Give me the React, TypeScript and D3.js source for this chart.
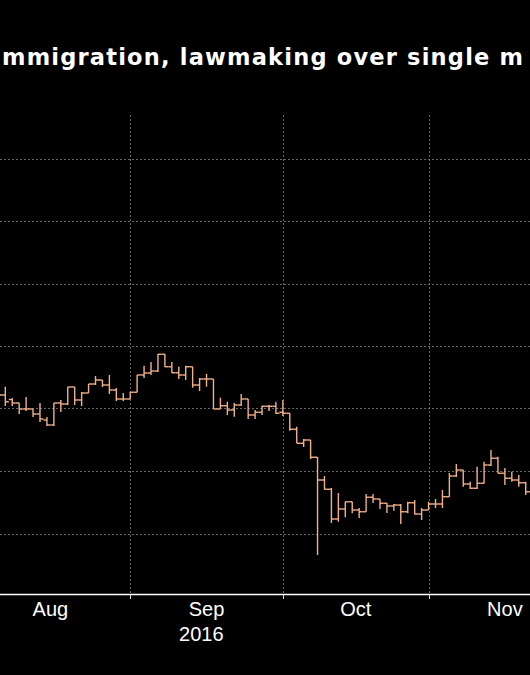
import React, { useEffect } from "react";
import * as d3 from "d3";

const titleText = "mmigration, lawmaking over single m";

const dates = [
  "2016-08-05", "2016-08-08", "2016-08-09", "2016-08-10", "2016-08-11", "2016-08-12",
  "2016-08-15", "2016-08-16", "2016-08-17", "2016-08-18", "2016-08-19",
  "2016-08-22", "2016-08-23", "2016-08-24", "2016-08-25", "2016-08-26",
  "2016-08-29", "2016-08-30", "2016-08-31", "2016-09-01", "2016-09-02",
  "2016-09-05", "2016-09-06", "2016-09-07", "2016-09-08", "2016-09-09",
  "2016-09-12", "2016-09-13", "2016-09-14", "2016-09-15", "2016-09-16",
  "2016-09-19", "2016-09-20", "2016-09-21", "2016-09-22", "2016-09-23",
  "2016-09-26", "2016-09-27", "2016-09-28", "2016-09-29", "2016-09-30",
  "2016-10-03", "2016-10-04", "2016-10-05", "2016-10-06", "2016-10-07",
  "2016-10-10", "2016-10-11", "2016-10-12", "2016-10-13", "2016-10-14",
  "2016-10-17", "2016-10-18", "2016-10-19", "2016-10-20", "2016-10-21",
  "2016-10-24", "2016-10-25", "2016-10-26", "2016-10-27", "2016-10-28",
  "2016-10-31", "2016-11-01", "2016-11-02", "2016-11-03", "2016-11-04",
  "2016-11-07", "2016-11-08", "2016-11-09", "2016-11-10", "2016-11-11",
  "2016-11-14", "2016-11-15", "2016-11-16", "2016-11-17", "2016-11-18",
  "2016-11-21", "2016-11-22",
];

const opens = [
  1.3132, 1.3108, 1.3072, 1.3044, 1.2996, 1.2996, 1.2956, 1.2908, 1.2868, 1.3044,
  1.3036, 1.3172, 1.3068, 1.3124, 1.3196, 1.3228, 1.3188, 1.3148, 1.3076, 1.3076,
  1.3130, 1.3268, 1.3284, 1.3300, 1.3434, 1.3334, 1.3286, 1.3268, 1.3334, 1.3188,
  1.3236, 1.3236, 1.2996, 1.3022, 1.2988, 1.3028, 1.3076, 1.2948, 1.2970, 1.3018,
  1.3018, 1.2970, 1.2962, 1.2834, 1.2722, 1.2748, 1.2610, 1.2428, 1.2354, 1.2116,
  1.2196, 1.2254, 1.2188, 1.2174, 1.2290, 1.2276, 1.2242, 1.2220, 1.2228, 1.2174,
  1.2246, 1.2156, 1.2188, 1.2236, 1.2236, 1.2294, 1.2460, 1.2508, 1.2396, 1.2362,
  1.2402, 1.2548, 1.2602, 1.2482, 1.2442, 1.2428, 1.2406, 1.2334,
];

const highs = [
  1.3164, 1.3174, 1.3084, 1.3044, 1.3092, 1.2996, 1.3044, 1.2932, 1.3044, 1.3068,
  1.3172, 1.3172, 1.3132, 1.3196, 1.3260, 1.3228, 1.3268, 1.3164, 1.3124, 1.3134,
  1.3268, 1.3342, 1.3372, 1.3436, 1.3436, 1.3372, 1.3334, 1.3342, 1.3334, 1.3244,
  1.3276, 1.3236, 1.3086, 1.3054, 1.3044, 1.3116, 1.3076, 1.2988, 1.3022, 1.3028,
  1.3054, 1.3068, 1.2964, 1.2854, 1.2756, 1.2748, 1.2612, 1.2460, 1.2364, 1.2324,
  1.2254, 1.2254, 1.2204, 1.2316, 1.2316, 1.2276, 1.2244, 1.2236, 1.2236, 1.2254,
  1.2268, 1.2204, 1.2254, 1.2276, 1.2348, 1.2484, 1.2556, 1.2508, 1.2414, 1.2534,
  1.2574, 1.2668, 1.2614, 1.2524, 1.2494, 1.2468, 1.2414, 1.2360,
];

const lows = [
  1.3068, 1.3020, 1.3020, 1.2956, 1.2980, 1.2932, 1.2892, 1.2860, 1.2860, 1.2972,
  1.3028, 1.3028, 1.3020, 1.3124, 1.3188, 1.3172, 1.3116, 1.3060, 1.3060, 1.3076,
  1.3130, 1.3244, 1.3268, 1.3292, 1.3332, 1.3284, 1.3236, 1.3228, 1.3166, 1.3140,
  1.3174, 1.2996, 1.2996, 1.2948, 1.2934, 1.3022, 1.2916, 1.2916, 1.2948, 1.2980,
  1.2956, 1.2940, 1.2822, 1.2722, 1.2692, 1.2596, 1.1828, 1.2352, 1.2084, 1.2094,
  1.2130, 1.2162, 1.2124, 1.2174, 1.2244, 1.2196, 1.2164, 1.2182, 1.2076, 1.2162,
  1.2152, 1.2108, 1.2188, 1.2204, 1.2204, 1.2294, 1.2452, 1.2374, 1.2356, 1.2356,
  1.2400, 1.2540, 1.2482, 1.2388, 1.2414, 1.2374, 1.2308, 1.2276,
];

const closes = [
  1.3108, 1.3054, 1.3044, 1.2996, 1.2996, 1.2956, 1.2916, 1.2868, 1.3044, 1.3036,
  1.3172, 1.3068, 1.3124, 1.3196, 1.3228, 1.3188, 1.3148, 1.3076, 1.3076, 1.3130,
  1.3268, 1.3284, 1.3300, 1.3434, 1.3334, 1.3286, 1.3268, 1.3334, 1.3188, 1.3236,
  1.3236, 1.2996, 1.3022, 1.2988, 1.3028, 1.3076, 1.2948, 1.2970, 1.3018, 1.3018,
  1.2962, 1.2962, 1.2834, 1.2722, 1.2748, 1.2610, 1.2428, 1.2354, 1.2116, 1.2196,
  1.2254, 1.2188, 1.2174, 1.2290, 1.2276, 1.2242, 1.2220, 1.2228, 1.2174, 1.2246,
  1.2156, 1.2188, 1.2236, 1.2236, 1.2294, 1.2460, 1.2508, 1.2396, 1.2362, 1.2402,
  1.2548, 1.2602, 1.2482, 1.2442, 1.2428, 1.2406, 1.2334, 1.2300,
];

const gridValues = [1.2, 1.25, 1.3, 1.35, 1.4, 1.45, 1.5];

const monthStarts = ["2016-08-01", "2016-09-01", "2016-10-03", "2016-11-01", "2016-12-01"];
const monthLabels = ["Aug", "Sep", "Oct", "Nov"];
const yearLabel = "2016";
const yearUnderMonth = "Sep";

const parse = d3.utcParse("%Y-%m-%d");

function weekdayOffset(dateStr: string): number {
  const start = parse(dates[0]) as Date;
  const d = parse(dateStr) as Date;
  const [a, b, sign] = d < start ? [d, start, -1] : [start, d, 1];
  const n = d3.utcDay.range(a, b).filter((x) => x.getUTCDay() !== 0 && x.getUTCDay() !== 6).length;
  return sign * n;
}

export default function App() {
  useEffect(() => {
    document.body.style.margin = "0";
    document.body.style.background = "#000";
    document.documentElement.style.background = "#000";
  }, []);

  const W = 530;
  const H = 675;
  const plotTop = 115;
  const axisY = 594;

  const x = d3.scaleLinear().domain([1, 76]).range([5.3, 525.7]);
  const step = x(1) - x(0);
  const half = step / 2;
  const y = d3.scaleLinear().domain([1.2, 1.5]).range([533.5, 158.5]);

  const barColor = "#f3b089";
  const monthIdx = monthStarts.map(weekdayOffset);

  return (
    <svg width={W} height={H} style={{ display: "block", background: "#000" }}>
      <rect x={0} y={0} width={W} height={H} fill="#000" />
      <text
        x={2}
        y={65}
        fill="#fff"
        fontFamily="'DejaVu Sans', sans-serif"
        fontWeight="bold"
        fontSize={22.5}
        textLength={521}
        lengthAdjust="spacing"
      >
        {titleText}
      </text>

      {gridValues.map((v) => (
        <line
          key={"h" + v}
          x1={0}
          x2={W}
          y1={Math.round(y(v)) + 0.5}
          y2={Math.round(y(v)) + 0.5}
          stroke="#666"
          strokeWidth={1}
          strokeDasharray="2,2"
        />
      ))}
      {monthIdx.map((mi, k) => (
        <g key={"v" + k}>
          <line
            x1={Math.round(x(mi)) + 0.5}
            x2={Math.round(x(mi)) + 0.5}
            y1={plotTop}
            y2={axisY}
            stroke="#666"
            strokeWidth={1}
            strokeDasharray="2,2"
          />
          <line
            x1={Math.round(x(mi)) + 0.5}
            x2={Math.round(x(mi)) + 0.5}
            y1={axisY}
            y2={axisY + 5}
            stroke="#ddd"
            strokeWidth={1}
          />
        </g>
      ))}

      <g stroke={barColor} strokeWidth={1.4} fill="none">
        {dates.map((d, i) => (
          <g key={d}>
            <line x1={x(i)} x2={x(i)} y1={y(highs[i])} y2={y(lows[i])} />
            <line x1={x(i) - half} x2={x(i)} y1={y(opens[i])} y2={y(opens[i])} />
            <line x1={x(i)} x2={x(i) + half} y1={y(closes[i])} y2={y(closes[i])} />
          </g>
        ))}
      </g>

      <line x1={0} x2={W} y1={axisY + 0.5} y2={axisY + 0.5} stroke="#fff" strokeWidth={1.5} />

      {monthLabels.map((m, k) => {
        const cx = (x(monthIdx[k]) + x(monthIdx[k + 1])) / 2;
        return (
          <g key={m}>
            <text
              x={cx}
              y={616}
              fill="#fff"
              fontFamily="'Liberation Sans', Arial, sans-serif"
              fontSize={20}
              textAnchor="middle"
            >
              {m}
            </text>
            {m === yearUnderMonth && (
              <text
                x={cx + 17}
                y={641}
                fill="#fff"
                fontFamily="'Liberation Sans', Arial, sans-serif"
                fontSize={20}
                textAnchor="end"
              >
                {yearLabel}
              </text>
            )}
          </g>
        );
      })}
    </svg>
  );
}
